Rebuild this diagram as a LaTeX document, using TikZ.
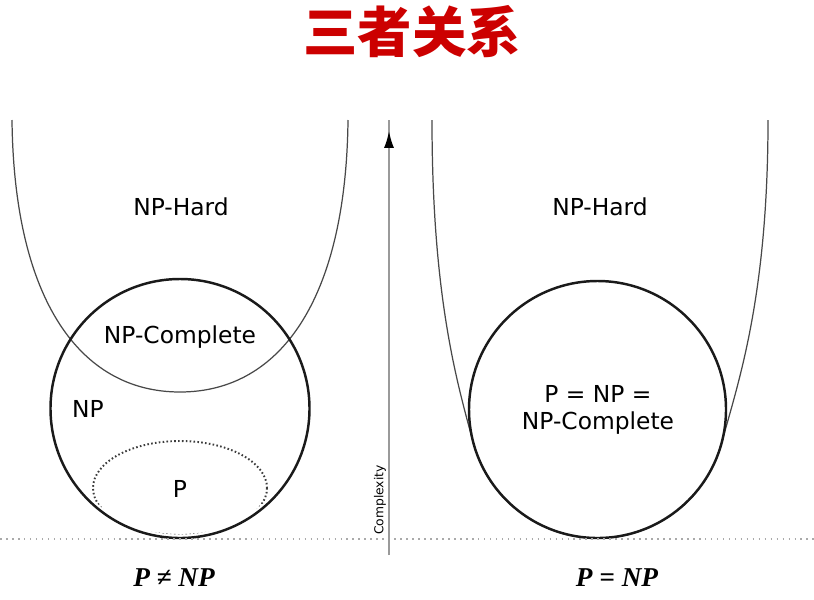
\documentclass[tikz,border=0pt]{standalone}
\usepackage{fontspec}
\setsansfont{DejaVu Sans}
\newfontfamily\cjk{Noto Sans CJK SC}
\newfontfamily\eqfont{Liberation Serif}
\usepackage{tikz}
\usetikzlibrary{arrows.meta,decorations.markings}
\definecolor{TitleRed}{HTML}{CC0000}
\definecolor{Ink}{HTML}{1A1A1A}
\definecolor{Axis}{HTML}{9A9A9A}
\definecolor{Base}{HTML}{AAAAAA}
\tikzset{set/.style={draw=Ink,line width=1.4pt},hardcurve/.style={draw=Ink!80,line width=.7pt},dots/.style={draw=Ink!85,line width=1.1pt,dash pattern=on .9pt off 1.3pt},baseline/.style={draw=Base,line width=.8pt,dash pattern=on .9pt off 2.5pt},axisline/.style={draw=Axis,line width=1.1pt,postaction={decorate},decoration={markings,mark=at position .975 with {\arrow[black]{Latex[length=3.4mm,width=2mm]}}}},lbl/.style={font=\sffamily\fontsize{13.3}{16}\selectfont,align=center},eq/.style={font=\eqfont\bfseries\itshape\fontsize{15.5}{18}\selectfont}}

\begin{document}
\begin{tikzpicture}[x=.02cm,y=-.02cm]
      \useasboundingbox (0,0) rectangle (814,599);
      \node[font=\cjk\bfseries\fontsize{31}{34}\selectfont,text=TitleRed](title) at (412,32){三者关系};
      % left: P != NP
      \draw[hardcurve] (12,120) .. controls (14,300) and (80,392) .. (180,392) .. controls (280,392) and (346,300) .. (348,120);
      \begin{scope}
        \clip (180,408.5) circle[radius=126];
        \draw[dots] (180,488) ellipse[x radius=87,y radius=47];
      \end{scope}
      \draw[set] (180,408.5) circle[radius=129.5];
      \node[lbl](hl) at (181,207){NP-Hard};
      \node[lbl](cl) at (180,337){NP-Complete};
      \node[lbl](nl) at (88,409){NP};
      \node[lbl](pl) at (180,489){P};
      % right: P = NP
      \draw[hardcurve] (432,120) .. controls (432,300) and (457.9,385.1) .. (473.4,443.1) arc[start angle=165,end angle=15,radius=128.5] .. controls (737.1,385.1) and (768,300) .. (768,120);
      \draw[set] (597.5,409.5) circle[radius=128.5];
      \node[lbl](hr) at (600,207){NP-Hard};
      \node[lbl,font=\sffamily\fontsize{13.3}{15.5}\selectfont](er) at (598,410){P = NP =\\NP-Complete};
      % axis
      \coordinate (b0) at (0,539);
      \coordinate (b1) at (814,539);
      \draw[baseline] (b0) -- (b1);
      \coordinate (y0) at (389,555);
      \coordinate (y1) at (389,120);
      \draw[axisline] (y0) -- (y1);
      \node[font=\sffamily\fontsize{7}{8}\selectfont,rotate=90](cx) at (380,500){Complexity};
      \node[eq](el) at (174,578){P ≠ NP};
      \node[eq](er2) at (617,578){P = NP};
    \end{tikzpicture}
\end{document}
